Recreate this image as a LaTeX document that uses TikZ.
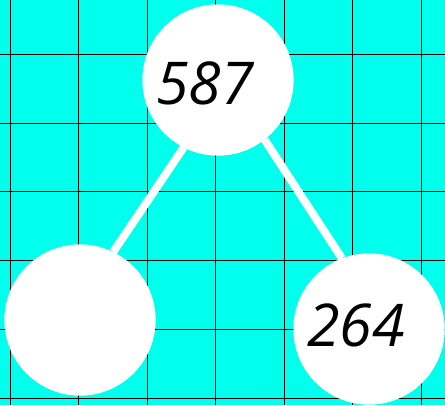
\documentclass[tikz,border=0pt]{standalone}
\usepackage{fontspec}
\setmainfont{Open Sans}
\definecolor{bgcyan}{RGB}{0,255,236}
\begin{document}
\begin{tikzpicture}[x=1pt,y=-1pt,
  bubble/.style={circle,fill=white,minimum size=151pt,inner sep=0pt},
  numtext/.style={font=\fontsize{59}{59}\selectfont\itshape},
  link/.style={white,line width=8pt}]
\fill[bgcyan] (0,0) rectangle (445,405);
\useasboundingbox (0,0) rectangle (445,405);
\foreach \x in {0,...,6} \draw[black,line width=0.9pt] ({10+68.5*\x},0) -- ({10+68.5*\x},405);
\foreach \y in {0,...,5} \draw[black,line width=0.9pt] (0,{54.5+68.7*\y}) -- (445,{54.5+68.7*\y});
\node[bubble] (top) at (218,80) {};
\node[bubble] (left) at (80,320) {};
\node[bubble] (right) at (369,329) {};
\draw[link] (top.243) -- (left.64);
\draw[link] (top.308) -- (right.111);
\node[bubble] at (top) {};
\node[bubble] at (left) {};
\node[bubble] at (right) {};
\node[numtext] (t1) at (205,83) {587};
\node[numtext] (t2) at (356,325) {264};
\end{tikzpicture}
\end{document}
